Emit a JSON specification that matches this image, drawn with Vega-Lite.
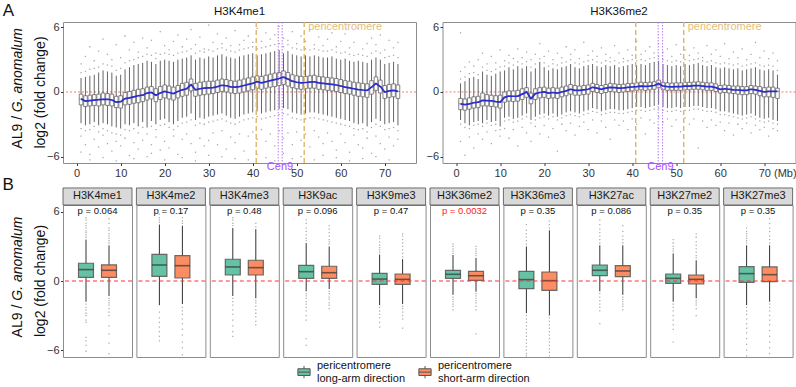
{
  "$schema": "https://vega.github.io/schema/vega-lite/v6.json",
  "padding": {"left": 2, "top": 1, "right": 0, "bottom": 0},
  "config": {
    "font": "Liberation Sans",
    "view": {"stroke": "#8c8c8c", "strokeWidth": 1},
    "axis": {"grid": false, "domain": false, "tickColor": "#333", "tickSize": 2.5, "labelPadding": 1.5, "labelFontSize": 11, "labelColor": "#333", "titleFontWeight": "normal", "titleColor": "#111", "labelFlush": false},
    "legend": {"labelFontSize": 11, "labelColor": "#111"}
  },
  "datasets": {
    "genome": [
      {"p":"H3K4me1","x":1,"lo":-2.9,"q1":-1.2,"m":-0.65,"q3":-0.2,"hi":1.3,"o":[1.8,2.6,-3.4,-4.1,-5.6]},
      {"p":"H3K4me1","x":2,"lo":-3.1,"q1":-1.35,"m":-0.85,"q3":-0.35,"hi":1.4,"o":[1.9,3.3,-3.6,-4.9]},
      {"p":"H3K4me1","x":3,"lo":-3.0,"q1":-1.3,"m":-0.8,"q3":-0.3,"hi":1.5,"o":[2.1,4.2,-3.5,-5.8,-6.3]},
      {"p":"H3K4me1","x":4,"lo":-2.8,"q1":-1.25,"m":-0.75,"q3":-0.25,"hi":1.6,"o":[2.2,2.9,-3.2,-4.4]},
      {"p":"H3K4me1","x":5,"lo":-3.1,"q1":-1.3,"m":-0.72,"q3":-0.2,"hi":1.8,"o":[2.3,3.8,-3.7,-5.1]},
      {"p":"H3K4me1","x":6,"lo":-2.9,"q1":-1.2,"m":-0.68,"q3":-0.1,"hi":2.0,"o":[2.6,4.9,-3.4,-4.0,-6.1]},
      {"p":"H3K4me1","x":7,"lo":-3.0,"q1":-1.25,"m":-0.68,"q3":-0.15,"hi":1.9,"o":[2.5,3.5,-3.6,-4.8]},
      {"p":"H3K4me1","x":8,"lo":-3.2,"q1":-1.3,"m":-0.75,"q3":-0.2,"hi":1.8,"o":[2.4,3.0,-3.8,-5.5]},
      {"p":"H3K4me1","x":9,"lo":-3.3,"q1":-1.45,"m":-0.95,"q3":-0.4,"hi":1.5,"o":[2.0,4.4,-3.9,-4.6,-6.4]},
      {"p":"H3K4me1","x":10,"lo":-3.4,"q1":-1.5,"m":-0.9,"q3":-0.35,"hi":1.6,"o":[2.2,3.2,-4.0,-5.0]},
      {"p":"H3K4me1","x":11,"lo":-3.0,"q1":-1.2,"m":-0.62,"q3":-0.05,"hi":2.1,"o":[2.7,5.2,-3.5,-4.3]},
      {"p":"H3K4me1","x":12,"lo":-3.1,"q1":-1.15,"m":-0.55,"q3":0.05,"hi":2.3,"o":[2.9,3.9,-3.6,-5.9]},
      {"p":"H3K4me1","x":13,"lo":-2.9,"q1":-1.05,"m":-0.45,"q3":0.15,"hi":2.5,"o":[3.0,4.6,-3.4,-4.7,-6.2]},
      {"p":"H3K4me1","x":14,"lo":-3.2,"q1":-1.0,"m":-0.35,"q3":0.25,"hi":2.6,"o":[3.2,3.7,-3.8,-5.3]},
      {"p":"H3K4me1","x":15,"lo":-2.8,"q1":-0.9,"m":-0.3,"q3":0.3,"hi":2.7,"o":[3.3,5.0,-3.3,-4.5]},
      {"p":"H3K4me1","x":16,"lo":-3.3,"q1":-0.75,"m":-0.1,"q3":0.45,"hi":2.9,"o":[3.5,4.1,-3.9,-6.0]},
      {"p":"H3K4me1","x":17,"lo":-2.7,"q1":-0.65,"m":-0.05,"q3":0.5,"hi":2.8,"o":[3.4,4.8,-3.2,-4.9,-5.7]},
      {"p":"H3K4me1","x":18,"lo":-3.0,"q1":-0.9,"m":-0.3,"q3":0.3,"hi":2.6,"o":[3.1,3.6,-3.5,-4.2]},
      {"p":"H3K4me1","x":19,"lo":-2.6,"q1":-0.7,"m":-0.1,"q3":0.5,"hi":2.9,"o":[3.5,5.6,-3.1,-5.4]},
      {"p":"H3K4me1","x":20,"lo":-2.5,"q1":-0.55,"m":0.05,"q3":0.65,"hi":3.0,"o":[3.6,4.3,-3.0,-4.6,-6.3]},
      {"p":"H3K4me1","x":21,"lo":-2.8,"q1":-0.65,"m":-0.05,"q3":0.55,"hi":2.9,"o":[3.5,3.9,-3.3,-5.2]},
      {"p":"H3K4me1","x":22,"lo":-3.0,"q1":-0.75,"m":-0.15,"q3":0.45,"hi":2.8,"o":[3.4,4.7,-3.5,-4.1]},
      {"p":"H3K4me1","x":23,"lo":-2.7,"q1":-0.55,"m":0.05,"q3":0.6,"hi":3.0,"o":[3.6,5.3,-3.2,-5.8]},
      {"p":"H3K4me1","x":24,"lo":-2.4,"q1":-0.4,"m":0.2,"q3":0.8,"hi":3.1,"o":[3.7,4.2,-2.9,-4.4,-6.1]},
      {"p":"H3K4me1","x":25,"lo":-2.3,"q1":-0.3,"m":0.3,"q3":0.9,"hi":3.2,"o":[3.8,4.9,-2.8,-3.9]},
      {"p":"H3K4me1","x":26,"lo":-2.0,"q1":0.1,"m":0.68,"q3":1.2,"hi":3.4,"o":[4.0,5.8,-2.6,-4.8]},
      {"p":"H3K4me1","x":27,"lo":-2.6,"q1":-0.4,"m":0.2,"q3":0.8,"hi":3.0,"o":[3.6,4.4,-3.1,-5.6,-6.4]},
      {"p":"H3K4me1","x":28,"lo":-2.4,"q1":-0.3,"m":0.3,"q3":0.9,"hi":3.2,"o":[3.8,5.1,-2.9,-4.3]},
      {"p":"H3K4me1","x":29,"lo":-2.5,"q1":-0.25,"m":0.35,"q3":0.95,"hi":3.1,"o":[3.7,4.0,-3.0,-5.0]},
      {"p":"H3K4me1","x":30,"lo":-2.3,"q1":-0.2,"m":0.38,"q3":1.0,"hi":3.3,"o":[3.9,6.2,-2.8,-4.5,-5.9]},
      {"p":"H3K4me1","x":31,"lo":-2.2,"q1":-0.15,"m":0.4,"q3":1.0,"hi":3.2,"o":[3.8,4.6,-2.7,-3.8]},
      {"p":"H3K4me1","x":32,"lo":-2.1,"q1":-0.05,"m":0.5,"q3":1.1,"hi":3.4,"o":[4.0,5.4,-2.6,-4.9]},
      {"p":"H3K4me1","x":33,"lo":-2.0,"q1":0.05,"m":0.62,"q3":1.2,"hi":3.5,"o":[4.1,4.5,-2.5,-3.6,-6.0]},
      {"p":"H3K4me1","x":34,"lo":-2.2,"q1":0.0,"m":0.58,"q3":1.15,"hi":3.3,"o":[3.9,5.0,-2.7,-5.3]},
      {"p":"H3K4me1","x":35,"lo":-2.4,"q1":-0.1,"m":0.48,"q3":1.05,"hi":3.2,"o":[3.8,4.3,-2.9,-4.2]},
      {"p":"H3K4me1","x":36,"lo":-2.5,"q1":-0.15,"m":0.45,"q3":1.0,"hi":3.1,"o":[3.7,5.7,-3.0,-4.7,-6.2]},
      {"p":"H3K4me1","x":37,"lo":-2.3,"q1":-0.1,"m":0.5,"q3":1.1,"hi":3.3,"o":[3.9,4.4,-2.8,-3.9]},
      {"p":"H3K4me1","x":38,"lo":-2.1,"q1":0.0,"m":0.6,"q3":1.2,"hi":3.4,"o":[4.0,4.8,-2.6,-5.5]},
      {"p":"H3K4me1","x":39,"lo":-2.0,"q1":0.1,"m":0.7,"q3":1.3,"hi":3.5,"o":[4.1,5.2,-2.5,-4.1,-6.3]},
      {"p":"H3K4me1","x":40,"lo":-1.9,"q1":0.2,"m":0.8,"q3":1.4,"hi":3.6,"o":[4.2,4.6,-2.4,-3.7]},
      {"p":"H3K4me1","x":41,"lo":-1.8,"q1":0.35,"m":0.95,"q3":1.5,"hi":3.4,"o":[4.0,5.9,-2.3,-4.4,-5.8]},
      {"p":"H3K4me1","x":42,"lo":-2.0,"q1":0.25,"m":0.85,"q3":1.45,"hi":3.5,"o":[4.1,4.7,-2.5,-3.5]},
      {"p":"H3K4me1","x":43,"lo":-1.9,"q1":0.35,"m":0.95,"q3":1.55,"hi":3.6,"o":[4.2,5.5,-2.4,-4.6,-6.1]},
      {"p":"H3K4me1","x":44,"lo":-1.8,"q1":0.45,"m":1.05,"q3":1.65,"hi":3.7,"o":[4.3,4.9,-2.3,-3.9]},
      {"p":"H3K4me1","x":45,"lo":-1.7,"q1":0.5,"m":1.15,"q3":1.75,"hi":3.8,"o":[4.4,5.3,-2.2,-5.0,-6.4]},
      {"p":"H3K4me1","x":46,"lo":-1.6,"q1":0.6,"m":1.25,"q3":1.8,"hi":3.9,"o":[4.5,6.1,-2.1,-3.6]},
      {"p":"H3K4me1","x":47,"lo":-1.5,"q1":0.7,"m":1.38,"q3":1.95,"hi":3.6,"o":[4.2,5.0,-2.0,-4.3,-5.7]},
      {"p":"H3K4me1","x":48,"lo":-1.6,"q1":0.55,"m":1.2,"q3":1.8,"hi":3.8,"o":[4.4,4.8,-2.1,-3.8]},
      {"p":"H3K4me1","x":49,"lo":-1.9,"q1":0.4,"m":1.0,"q3":1.6,"hi":3.5,"o":[4.1,5.6,-2.4,-4.9,-6.2]},
      {"p":"H3K4me1","x":50,"lo":-2.0,"q1":0.3,"m":0.9,"q3":1.5,"hi":3.4,"o":[4.0,4.5,-2.5,-3.7]},
      {"p":"H3K4me1","x":51,"lo":-2.1,"q1":0.25,"m":0.85,"q3":1.45,"hi":3.3,"o":[3.9,5.2,-2.6,-4.5,-6.0]},
      {"p":"H3K4me1","x":52,"lo":-2.0,"q1":0.3,"m":0.88,"q3":1.45,"hi":3.4,"o":[4.0,4.7,-2.5,-3.9]},
      {"p":"H3K4me1","x":53,"lo":-1.9,"q1":0.35,"m":0.92,"q3":1.5,"hi":3.3,"o":[3.9,5.8,-2.4,-5.1]},
      {"p":"H3K4me1","x":54,"lo":-1.9,"q1":0.35,"m":0.95,"q3":1.55,"hi":3.4,"o":[4.0,4.4,-2.4,-3.6,-6.3]},
      {"p":"H3K4me1","x":55,"lo":-2.0,"q1":0.25,"m":0.85,"q3":1.45,"hi":3.3,"o":[3.9,5.1,-2.5,-4.2]},
      {"p":"H3K4me1","x":56,"lo":-2.1,"q1":0.2,"m":0.8,"q3":1.4,"hi":3.2,"o":[3.8,4.3,-2.6,-4.8,-5.9]},
      {"p":"H3K4me1","x":57,"lo":-2.2,"q1":0.15,"m":0.75,"q3":1.35,"hi":3.2,"o":[3.8,4.9,-2.7,-3.8]},
      {"p":"H3K4me1","x":58,"lo":-2.3,"q1":0.1,"m":0.7,"q3":1.3,"hi":3.3,"o":[3.9,5.5,-2.8,-4.6]},
      {"p":"H3K4me1","x":59,"lo":-2.4,"q1":0.05,"m":0.65,"q3":1.25,"hi":3.1,"o":[3.7,4.2,-2.9,-5.4,-6.1]},
      {"p":"H3K4me1","x":60,"lo":-2.5,"q1":-0.05,"m":0.55,"q3":1.15,"hi":3.0,"o":[3.6,4.7,-3.0,-3.9]},
      {"p":"H3K4me1","x":61,"lo":-2.6,"q1":-0.15,"m":0.45,"q3":1.05,"hi":3.1,"o":[3.7,5.4,-3.1,-4.7]},
      {"p":"H3K4me1","x":62,"lo":-2.7,"q1":-0.2,"m":0.38,"q3":1.0,"hi":2.9,"o":[3.5,4.1,-3.2,-5.6,-6.4]},
      {"p":"H3K4me1","x":63,"lo":-2.9,"q1":-0.3,"m":0.3,"q3":0.9,"hi":2.8,"o":[3.4,4.6,-3.4,-4.0]},
      {"p":"H3K4me1","x":64,"lo":-3.0,"q1":-0.4,"m":0.22,"q3":0.85,"hi":2.9,"o":[3.5,5.9,-3.5,-4.9]},
      {"p":"H3K4me1","x":65,"lo":-2.9,"q1":-0.45,"m":0.18,"q3":0.8,"hi":2.8,"o":[3.4,4.0,-3.4,-5.2,-6.2]},
      {"p":"H3K4me1","x":66,"lo":-3.2,"q1":-0.5,"m":0.15,"q3":0.75,"hi":2.7,"o":[3.3,4.5,-3.7,-4.3]},
      {"p":"H3K4me1","x":67,"lo":-2.8,"q1":-0.2,"m":0.45,"q3":1.05,"hi":3.0,"o":[3.6,5.0,-3.3,-5.7]},
      {"p":"H3K4me1","x":68,"lo":-2.5,"q1":0.15,"m":0.78,"q3":1.4,"hi":3.2,"o":[3.8,4.4,-3.0,-4.1,-6.0]},
      {"p":"H3K4me1","x":69,"lo":-2.7,"q1":-0.1,"m":0.5,"q3":1.1,"hi":3.0,"o":[3.6,5.3,-3.2,-4.8]},
      {"p":"H3K4me1","x":70,"lo":-3.0,"q1":-0.6,"m":0.0,"q3":0.6,"hi":2.6,"o":[3.2,3.9,-3.5,-5.3]},
      {"p":"H3K4me1","x":71,"lo":-2.9,"q1":-0.5,"m":0.1,"q3":0.7,"hi":2.7,"o":[3.3,4.8,-3.4,-4.2,-6.3]},
      {"p":"H3K4me1","x":72,"lo":-2.8,"q1":-0.45,"m":0.15,"q3":0.75,"hi":2.8,"o":[3.4,4.1,-3.3,-5.0]},
      {"p":"H3K4me1","x":73,"lo":-3.1,"q1":-0.6,"m":0.05,"q3":0.65,"hi":2.6,"o":[3.2,4.6,-3.6,-4.4]},
      {"p":"H3K36me2","x":1,"lo":-2.6,"q1":-1.65,"m":-1.1,"q3":-0.6,"hi":0.8,"o":[1.2,1.9,5.5,-3.0,-4.6]},
      {"p":"H3K36me2","x":2,"lo":-2.9,"q1":-1.7,"m":-1.17,"q3":-0.65,"hi":1.0,"o":[1.4,2.3,-3.3,-5.9]},
      {"p":"H3K36me2","x":3,"lo":-3.1,"q1":-1.6,"m":-1.1,"q3":-0.55,"hi":1.3,"o":[1.7,2.8,-3.4,-4.2]},
      {"p":"H3K36me2","x":4,"lo":-2.8,"q1":-1.5,"m":-1.0,"q3":-0.45,"hi":1.4,"o":[1.8,2.4,-3.1,-5.2]},
      {"p":"H3K36me2","x":5,"lo":-2.7,"q1":-1.45,"m":-0.95,"q3":-0.4,"hi":1.2,"o":[1.6,3.0,-3.0,-3.9]},
      {"p":"H3K36me2","x":6,"lo":-2.9,"q1":-1.3,"m":-0.78,"q3":-0.1,"hi":1.9,"o":[2.3,3.6,-3.2,-4.4]},
      {"p":"H3K36me2","x":7,"lo":-2.6,"q1":-1.3,"m":-0.8,"q3":-0.25,"hi":1.6,"o":[2.0,2.6,-2.9,-3.7]},
      {"p":"H3K36me2","x":8,"lo":-2.8,"q1":-1.35,"m":-0.82,"q3":-0.3,"hi":1.5,"o":[1.9,3.3,-3.1,-4.8]},
      {"p":"H3K36me2","x":9,"lo":-2.7,"q1":-1.4,"m":-0.9,"q3":-0.35,"hi":1.7,"o":[2.1,2.7,-3.0,-3.6]},
      {"p":"H3K36me2","x":10,"lo":-3.2,"q1":-1.5,"m":-0.95,"q3":-0.3,"hi":1.9,"o":[2.3,3.9,-3.5,-4.1]},
      {"p":"H3K36me2","x":11,"lo":-2.4,"q1":-0.95,"m":-0.5,"q3":0.0,"hi":2.0,"o":[2.4,2.9,-2.7,-3.4]},
      {"p":"H3K36me2","x":12,"lo":-2.3,"q1":-0.85,"m":-0.38,"q3":0.1,"hi":2.3,"o":[2.7,3.4,-2.6,-4.3]},
      {"p":"H3K36me2","x":13,"lo":-2.5,"q1":-0.9,"m":-0.4,"q3":0.1,"hi":2.1,"o":[2.5,3.1,-2.8,-3.5]},
      {"p":"H3K36me2","x":14,"lo":-2.4,"q1":-0.85,"m":-0.38,"q3":0.15,"hi":2.4,"o":[2.8,4.0,-2.7,-5.0]},
      {"p":"H3K36me2","x":15,"lo":-2.2,"q1":-0.7,"m":-0.2,"q3":0.3,"hi":2.2,"o":[2.6,3.2,-2.5,-3.3]},
      {"p":"H3K36me2","x":16,"lo":-2.0,"q1":-0.5,"m":0.0,"q3":0.4,"hi":2.4,"o":[2.8,3.7,-2.3,-3.8]},
      {"p":"H3K36me2","x":17,"lo":-2.6,"q1":-1.1,"m":-0.62,"q3":-0.1,"hi":1.9,"o":[2.3,3.0,-2.9,-4.6]},
      {"p":"H3K36me2","x":18,"lo":-2.3,"q1":-0.7,"m":-0.15,"q3":0.3,"hi":2.2,"o":[2.6,3.5,-2.6,-3.2]},
      {"p":"H3K36me2","x":19,"lo":-2.1,"q1":-0.55,"m":-0.05,"q3":0.4,"hi":2.8,"o":[3.1,4.5,-2.4,-3.9]},
      {"p":"H3K36me2","x":20,"lo":-2.0,"q1":-0.5,"m":0.0,"q3":0.45,"hi":2.3,"o":[2.7,3.3,-2.3,-3.1]},
      {"p":"H3K36me2","x":21,"lo":-2.2,"q1":-0.6,"m":-0.1,"q3":0.35,"hi":2.0,"o":[2.4,3.8,-2.5,-4.2]},
      {"p":"H3K36me2","x":22,"lo":-2.0,"q1":-0.55,"m":-0.05,"q3":0.4,"hi":2.2,"o":[2.6,3.0,-2.3,-3.4]},
      {"p":"H3K36me2","x":23,"lo":-2.3,"q1":-0.6,"m":-0.1,"q3":0.35,"hi":2.1,"o":[2.5,3.6,-2.6,-5.5]},
      {"p":"H3K36me2","x":24,"lo":-2.1,"q1":-0.45,"m":0.0,"q3":0.45,"hi":2.3,"o":[2.7,3.2,-2.4,-3.0]},
      {"p":"H3K36me2","x":25,"lo":-1.9,"q1":-0.35,"m":0.1,"q3":0.55,"hi":2.4,"o":[2.8,4.2,-2.2,-3.6]},
      {"p":"H3K36me2","x":26,"lo":-1.8,"q1":-0.2,"m":0.25,"q3":0.7,"hi":2.6,"o":[3.0,3.5,-2.1,-2.9]},
      {"p":"H3K36me2","x":27,"lo":-1.9,"q1":-0.3,"m":0.15,"q3":0.6,"hi":2.3,"o":[2.7,3.9,-2.2,-4.0]},
      {"p":"H3K36me2","x":28,"lo":-2.0,"q1":-0.3,"m":0.15,"q3":0.55,"hi":2.2,"o":[2.6,3.1,-2.3,-3.2]},
      {"p":"H3K36me2","x":29,"lo":-1.8,"q1":-0.25,"m":0.2,"q3":0.6,"hi":2.4,"o":[2.8,4.6,-2.1,-2.8]},
      {"p":"H3K36me2","x":30,"lo":-1.7,"q1":-0.2,"m":0.25,"q3":0.65,"hi":2.5,"o":[2.9,3.4,-2.0,-3.5]},
      {"p":"H3K36me2","x":31,"lo":-1.5,"q1":0.05,"m":0.43,"q3":0.8,"hi":2.6,"o":[3.0,3.8,-1.8,-2.6]},
      {"p":"H3K36me2","x":32,"lo":-1.6,"q1":-0.05,"m":0.35,"q3":0.7,"hi":2.4,"o":[2.8,3.3,-1.9,-3.8]},
      {"p":"H3K36me2","x":33,"lo":-1.8,"q1":-0.15,"m":0.25,"q3":0.6,"hi":2.3,"o":[2.7,4.1,-2.1,-2.7]},
      {"p":"H3K36me2","x":34,"lo":-1.7,"q1":-0.05,"m":0.35,"q3":0.7,"hi":2.5,"o":[2.9,3.5,-2.0,-3.3]},
      {"p":"H3K36me2","x":35,"lo":-1.6,"q1":0.05,"m":0.43,"q3":0.8,"hi":2.4,"o":[2.8,3.2,-1.9,-4.4]},
      {"p":"H3K36me2","x":36,"lo":-1.6,"q1":0.0,"m":0.4,"q3":0.75,"hi":2.5,"o":[2.9,4.3,-1.9,-2.6]},
      {"p":"H3K36me2","x":37,"lo":-1.7,"q1":-0.05,"m":0.35,"q3":0.7,"hi":2.3,"o":[2.7,3.6,-2.0,-3.1]},
      {"p":"H3K36me2","x":38,"lo":-1.7,"q1":0.0,"m":0.37,"q3":0.72,"hi":2.4,"o":[2.8,3.1,-2.0,-2.7]},
      {"p":"H3K36me2","x":39,"lo":-1.6,"q1":0.05,"m":0.42,"q3":0.78,"hi":2.5,"o":[2.9,3.9,-1.9,-3.5]},
      {"p":"H3K36me2","x":40,"lo":-1.5,"q1":0.1,"m":0.46,"q3":0.8,"hi":2.6,"o":[3.0,3.4,-1.8,-2.5]},
      {"p":"H3K36me2","x":41,"lo":-1.4,"q1":0.15,"m":0.5,"q3":0.85,"hi":2.5,"o":[2.9,4.7,-1.7,-3.0]},
      {"p":"H3K36me2","x":42,"lo":-1.4,"q1":0.2,"m":0.55,"q3":0.9,"hi":2.6,"o":[3.0,3.5,-1.7,-2.4]},
      {"p":"H3K36me2","x":43,"lo":-1.5,"q1":0.15,"m":0.52,"q3":0.88,"hi":2.5,"o":[2.9,3.8,-1.8,-3.9]},
      {"p":"H3K36me2","x":44,"lo":-1.4,"q1":0.2,"m":0.55,"q3":0.9,"hi":2.7,"o":[3.1,4.2,-1.7,-2.6]},
      {"p":"H3K36me2","x":45,"lo":-1.3,"q1":0.25,"m":0.6,"q3":0.95,"hi":2.8,"o":[3.2,3.6,-1.6,-2.9]},
      {"p":"H3K36me2","x":46,"lo":-1.2,"q1":0.4,"m":0.77,"q3":1.1,"hi":2.9,"o":[3.3,4.5,-1.5,-2.3,-3.4]},
      {"p":"H3K36me2","x":47,"lo":-1.4,"q1":0.2,"m":0.55,"q3":0.9,"hi":2.6,"o":[3.0,3.7,-1.7,-2.8]},
      {"p":"H3K36me2","x":48,"lo":-1.5,"q1":0.15,"m":0.5,"q3":0.85,"hi":2.5,"o":[2.9,4.0,-1.8,-2.5]},
      {"p":"H3K36me2","x":49,"lo":-1.5,"q1":0.15,"m":0.48,"q3":0.82,"hi":2.4,"o":[2.8,3.3,-1.8,-3.2]},
      {"p":"H3K36me2","x":50,"lo":-1.4,"q1":0.15,"m":0.49,"q3":0.85,"hi":2.5,"o":[2.9,4.4,-1.7,-2.6]},
      {"p":"H3K36me2","x":51,"lo":-1.5,"q1":0.15,"m":0.5,"q3":0.85,"hi":2.4,"o":[2.8,3.5,-1.8,-3.7]},
      {"p":"H3K36me2","x":52,"lo":-1.4,"q1":0.2,"m":0.55,"q3":0.9,"hi":2.6,"o":[3.0,3.9,-1.7,-2.4]},
      {"p":"H3K36me2","x":53,"lo":-1.4,"q1":0.2,"m":0.55,"q3":0.9,"hi":2.5,"o":[2.9,3.4,-1.7,-3.0]},
      {"p":"H3K36me2","x":54,"lo":-1.3,"q1":0.25,"m":0.58,"q3":0.92,"hi":2.6,"o":[3.0,4.1,-1.6,-2.5]},
      {"p":"H3K36me2","x":55,"lo":-1.3,"q1":0.25,"m":0.6,"q3":0.95,"hi":2.7,"o":[3.1,3.6,-1.6,-5.2]},
      {"p":"H3K36me2","x":56,"lo":-1.4,"q1":0.2,"m":0.55,"q3":0.9,"hi":2.5,"o":[2.9,3.2,-1.7,-2.7]},
      {"p":"H3K36me2","x":57,"lo":-1.5,"q1":0.15,"m":0.5,"q3":0.85,"hi":2.4,"o":[2.8,4.3,-1.8,-3.3]},
      {"p":"H3K36me2","x":58,"lo":-1.5,"q1":0.15,"m":0.49,"q3":0.85,"hi":2.5,"o":[2.9,3.5,-1.8,-2.6]},
      {"p":"H3K36me2","x":59,"lo":-1.6,"q1":0.05,"m":0.4,"q3":0.75,"hi":2.3,"o":[2.7,3.9,-1.9,-3.1]},
      {"p":"H3K36me2","x":60,"lo":-1.8,"q1":-0.1,"m":0.25,"q3":0.6,"hi":2.2,"o":[2.6,3.3,-2.1,-2.8]},
      {"p":"H3K36me2","x":61,"lo":-1.8,"q1":-0.05,"m":0.3,"q3":0.65,"hi":2.3,"o":[2.7,4.5,-2.1,-3.6]},
      {"p":"H3K36me2","x":62,"lo":-1.9,"q1":-0.1,"m":0.25,"q3":0.6,"hi":2.2,"o":[2.6,3.1,-2.2,-2.9]},
      {"p":"H3K36me2","x":63,"lo":-2.0,"q1":-0.15,"m":0.2,"q3":0.55,"hi":2.1,"o":[2.5,3.7,-2.3,-4.0]},
      {"p":"H3K36me2","x":64,"lo":-2.1,"q1":-0.2,"m":0.18,"q3":0.55,"hi":2.2,"o":[2.6,3.2,-2.4,-3.0]},
      {"p":"H3K36me2","x":65,"lo":-2.2,"q1":-0.25,"m":0.15,"q3":0.5,"hi":2.0,"o":[2.4,4.0,-2.5,-3.4]},
      {"p":"H3K36me2","x":66,"lo":-2.1,"q1":-0.25,"m":0.15,"q3":0.5,"hi":2.1,"o":[2.5,3.0,-2.4,-2.9]},
      {"p":"H3K36me2","x":67,"lo":-2.0,"q1":-0.15,"m":0.25,"q3":0.6,"hi":2.2,"o":[2.6,3.5,-2.3,-3.8]},
      {"p":"H3K36me2","x":68,"lo":-2.2,"q1":-0.2,"m":0.2,"q3":0.55,"hi":2.3,"o":[2.7,4.6,-2.5,-3.1]},
      {"p":"H3K36me2","x":69,"lo":-2.4,"q1":-0.35,"m":0.1,"q3":0.5,"hi":2.1,"o":[2.5,3.2,-2.7,-3.5]},
      {"p":"H3K36me2","x":70,"lo":-2.5,"q1":-0.45,"m":0.0,"q3":0.4,"hi":2.0,"o":[2.4,3.8,-2.8,-3.3]},
      {"p":"H3K36me2","x":71,"lo":-2.4,"q1":-0.45,"m":0.05,"q3":0.45,"hi":2.1,"o":[2.5,3.1,-2.7,-4.1]},
      {"p":"H3K36me2","x":72,"lo":-2.6,"q1":-0.5,"m":0.05,"q3":0.45,"hi":2.0,"o":[2.4,3.6,-2.9,-3.4]},
      {"p":"H3K36me2","x":73,"lo":-2.7,"q1":-0.6,"m":0.06,"q3":0.35,"hi":1.6,"o":[2.0,2.9,-3.0,-3.6]}
    ],
    "arms": [
      {"mark":"H3K4me1","arm":"long","pval":0.064,"lo":-1.8,"q1":0.32,"m":0.99,"q3":1.54,"hi":3.6,"o":[3.8,4.0,4.2,4.35,4.6,4.8,5.0,5.3,5.5,-2.0,-2.3,-2.5,-2.8,-3.0,-3.4,-3.6,-4.9,-5.2,-5.6,-6.1]},
      {"mark":"H3K4me1","arm":"short","pval":0.064,"lo":-1.3,"q1":0.32,"m":0.93,"q3":1.4,"hi":3.1,"o":[3.3,3.5,3.7,3.9,4.1,4.4,4.6,5.0,5.4,-1.5,-1.7,-1.9,-2.1,-2.4,-2.7,-3.0,-3.9,-4.6,-5.4,-6.3]},
      {"mark":"H3K4me2","arm":"long","pval":0.17,"lo":-2.1,"q1":0.41,"m":1.39,"q3":2.32,"hi":4.9,"o":[5.1,5.3,5.5,5.8,-2.7,-3.2,-3.6,-4.0,-4.4,-4.8,-5.2]},
      {"mark":"H3K4me2","arm":"short","pval":0.17,"lo":-2.0,"q1":0.26,"m":1.33,"q3":2.2,"hi":4.8,"o":[5.0,5.2,5.5,5.9,6.2,-2.3,-2.6,-2.9,-3.3,-3.7,-4.2,-4.7,-5.3,-5.8,-6.4]},
      {"mark":"H3K4me3","arm":"long","pval":0.48,"lo":-1.3,"q1":0.52,"m":1.22,"q3":1.89,"hi":4.6,"o":[4.8,5.0,5.3,5.5,-1.5,-1.8,-2.1,-2.5,-2.9,-3.4,-3.9,-4.4,-4.8]},
      {"mark":"H3K4me3","arm":"short","pval":0.48,"lo":-1.5,"q1":0.52,"m":1.16,"q3":1.8,"hi":4.5,"o":[4.7,5.0,-1.7,-1.9,-2.2,-2.5,-2.8,-3.1,-3.5,-3.8]},
      {"mark":"H3K9ac","arm":"long","pval":0.096,"lo":-0.9,"q1":0.23,"m":0.81,"q3":1.36,"hi":3.3,"o":[3.5,3.7,4.0,4.3,4.6,5.0,5.3,-1.1,-1.3,-1.5,-1.8,-2.0,-2.3,-2.6,-3.0,-3.4,-5.0,-5.6]},
      {"mark":"H3K9ac","arm":"short","pval":0.096,"lo":-0.7,"q1":0.23,"m":0.72,"q3":1.28,"hi":3.0,"o":[3.2,3.4,3.6,3.9,4.2,4.5,4.8,-0.9,-1.1,-1.4,-1.6,-1.9,-2.1,-2.4]},
      {"mark":"H3K9me3","arm":"long","pval":0.47,"lo":-2.1,"q1":-0.29,"m":0.17,"q3":0.67,"hi":2.3,"o":[2.5,2.7,2.9,3.1,3.4,3.7,3.9,-2.3,-2.6,-2.9,-3.2,-3.6,-4.0]},
      {"mark":"H3K9me3","arm":"short","pval":0.47,"lo":-2.0,"q1":-0.29,"m":0.14,"q3":0.61,"hi":1.9,"o":[2.1,2.4,2.7,3.0,3.3,3.6,3.9,4.1,-2.2,-2.4,-2.7,-3.0,-3.3,-4.1]},
      {"mark":"H3K36me2","arm":"long","pval":0.0032,"lo":-1.2,"q1":0.23,"m":0.58,"q3":0.93,"hi":2.26,"o":[2.4,2.6,2.8,3.0,3.2,-1.4,-1.6,-1.8,-2.0,-2.2,-2.5]},
      {"mark":"H3K36me2","arm":"short","pval":0.0032,"lo":-0.93,"q1":0.06,"m":0.46,"q3":0.84,"hi":2.0,"o":[2.2,2.4,2.6,2.8,3.0,-1.1,-1.3,-1.5,-1.7,-1.9,-2.2,-2.5,-4.6]},
      {"mark":"H3K36me3","arm":"long","pval":0.35,"lo":-2.8,"q1":-0.67,"m":0.12,"q3":0.84,"hi":3.0,"o":[3.2,3.5,3.8,4.1,4.4,4.9,-3.0,-3.3,-3.6,-3.9,-4.2,-4.5,-4.8,-5.1,-5.4,-5.7,-6.0,-6.3,-6.5]},
      {"mark":"H3K36me3","arm":"short","pval":0.35,"lo":-3.0,"q1":-0.81,"m":0.03,"q3":0.78,"hi":4.4,"o":[4.6,4.9,5.2,-3.2,-3.5,-3.8,-4.1,-4.4,-4.7,-5.0,-5.3,-5.6,-5.9,-6.2,-6.5]},
      {"mark":"H3K27ac","arm":"long","pval":0.086,"lo":-0.9,"q1":0.46,"m":0.93,"q3":1.39,"hi":3.1,"o":[3.3,3.6,3.9,4.2,4.5,4.9,5.3,-1.1,-1.4,-1.7,-2.0,-2.3,-2.6,-3.7]},
      {"mark":"H3K27ac","arm":"short","pval":0.086,"lo":-1.2,"q1":0.38,"m":0.87,"q3":1.33,"hi":3.1,"o":[3.3,3.6,3.9,4.3,4.8,-1.4,-1.6,-1.8,-2.0,-2.2,-2.5]},
      {"mark":"H3K27me2","arm":"long","pval":0.35,"lo":-1.8,"q1":-0.2,"m":0.23,"q3":0.61,"hi":2.4,"o":[2.6,2.8,3.0,3.3,3.6,-2.0,-2.3,-2.6,-3.0,-3.4,-3.8,-4.2,-5.3]},
      {"mark":"H3K27me2","arm":"short","pval":0.35,"lo":-1.5,"q1":-0.26,"m":0.14,"q3":0.52,"hi":1.8,"o":[2.0,2.2,2.5,2.8,3.1,3.4,3.8,4.1,-1.7,-1.9,-2.1,-2.4,-3.0]},
      {"mark":"H3K27me3","arm":"long","pval":0.35,"lo":-2.1,"q1":-0.12,"m":0.64,"q3":1.25,"hi":3.1,"o":[3.3,3.5,3.7,3.9,4.1,4.3,4.6,-2.3,-2.6,-2.9,-3.3,-3.7,-4.1,-4.5,-5.0,-5.5,-6.0,-6.5]},
      {"mark":"H3K27me3","arm":"short","pval":0.35,"lo":-1.8,"q1":-0.06,"m":0.55,"q3":1.22,"hi":3.1,"o":[3.3,3.6,3.9,4.3,4.6,5.0,5.4,-2.0,-2.3,-2.6,-3.0,-3.4,-3.8,-4.3,-4.8,-5.3,-5.8,-6.3]}
    ]
  },
  "vconcat": [
    {
      "hconcat": [
        {
          "width": 353, "height": 141,
          "data": {"name": "genome"},
          "transform": [{"filter": "datum.p == 'H3K4me1'"}],
          "layer": [
            {"data": {"values": [{}]}, "mark": {"type": "rule", "color": "#ff5050", "strokeDash": [2, 2], "strokeWidth": 0.8}, "encoding": {"y": {"datum": 0, "type": "quantitative"}}},
            {"transform": [{"flatten": ["o"]}], "mark": {"type": "square", "size": 1.6, "color": "#888", "opacity": 0.75},
             "encoding": {
               "x": {"field": "x", "type": "quantitative", "scale": {"domain": [-3.1, 77.1], "nice": false, "zero": false, "padding": 0}, "axis": {"values": [0, 10, 20, 30, 40, 50, 60, 70], "title": null}},
               "y": {"field": "o", "type": "quantitative", "scale": {"domain": [-6.6, 6.5], "nice": false, "padding": 0}, "axis": {"values": [-6, -3, 0, 3, 6], "title": null}}}},
            {"mark": {"type": "rule", "color": "#555", "strokeWidth": 0.9}, "encoding": {"x": {"field": "x", "type": "quantitative"}, "y": {"field": "lo", "type": "quantitative"}, "y2": {"field": "hi"}}},
            {"mark": {"type": "bar", "width": 3.6, "fill": "white", "stroke": "#666", "strokeWidth": 0.8}, "encoding": {"x": {"field": "x", "type": "quantitative"}, "y": {"field": "q1", "type": "quantitative"}, "y2": {"field": "q3"}}},
            {"mark": {"type": "tick", "orient": "horizontal", "size": 3.6, "thickness": 1, "color": "#666"}, "encoding": {"x": {"field": "x", "type": "quantitative"}, "y": {"field": "m", "type": "quantitative"}}},
            {"data": {"values": [{"b": 40.8}, {"b": 51.7}]}, "mark": {"type": "rule", "color": "#e2b36b", "strokeDash": [5, 3], "strokeWidth": 1.4}, "encoding": {"x": {"field": "b", "type": "quantitative"}}},
            {"data": {"values": [{"c": 45.8}, {"c": 46.7}]}, "mark": {"type": "rule", "color": "#b77cf0", "strokeDash": [1.5, 1.5], "strokeWidth": 1}, "encoding": {"x": {"field": "c", "type": "quantitative"}}},
            {"mark": {"type": "line", "color": "#2b2bd0", "strokeWidth": 1.7}, "encoding": {"x": {"field": "x", "type": "quantitative"}, "y": {"field": "m", "type": "quantitative"}}},
            {"data": {"values": [{}]}, "mark": {"type": "text", "align": "left", "baseline": "middle", "fontSize": 11, "color": "#e5bd7b"}, "encoding": {"x": {"datum": 52.6, "type": "quantitative"}, "y": {"datum": 6.05, "type": "quantitative"}, "text": {"value": "pericentromere"}}},
            {"data": {"values": [{}]}, "mark": {"type": "text", "align": "center", "baseline": "middle", "fontSize": 11, "color": "#a64dff"}, "encoding": {"x": {"datum": 46.2, "type": "quantitative"}, "y": {"datum": -6.95, "type": "quantitative"}, "text": {"value": "Cen9"}}},
            {"data": {"values": [{}]}, "mark": {"type": "text", "align": "center", "baseline": "middle", "fontSize": 11.5, "color": "#111"}, "encoding": {"x": {"datum": 37, "type": "quantitative"}, "y": {"datum": 7.42, "type": "quantitative"}, "text": {"value": "H3K4me1"}}},
            {"data": {"values": [{}]}, "mark": {"type": "text", "align": "center", "baseline": "middle", "fontSize": 17, "color": "#111"}, "encoding": {"x": {"datum": -15.5, "type": "quantitative"}, "y": {"datum": 7.56, "type": "quantitative"}, "text": {"value": "A"}}},
            {"data": {"values": [{}]}, "mark": {"type": "text", "angle": 270, "align": "center", "baseline": "middle", "fontSize": 14, "color": "#111"}, "encoding": {"x": {"datum": -8.1, "type": "quantitative"}, "y": {"datum": -0.05, "type": "quantitative"}, "text": {"value": "log2 (fold change)"}}},
            {"data": {"values": [{}]}, "mark": {"type": "text", "angle": 270, "align": "right", "baseline": "middle", "fontSize": 14, "color": "#111"}, "encoding": {"x": {"datum": -13.33, "type": "quantitative"}, "y": {"datum": -2.23, "type": "quantitative"}, "text": {"value": "AL9 /"}}},
            {"data": {"values": [{}]}, "mark": {"type": "text", "angle": 270, "align": "left", "baseline": "middle", "fontSize": 14, "fontStyle": "italic", "color": "#111"}, "encoding": {"x": {"datum": -13.33, "type": "quantitative"}, "y": {"datum": -1.88, "type": "quantitative"}, "text": {"value": "G. anomalum"}}}
          ]
        },
        {
          "width": 353, "height": 141,
          "data": {"name": "genome"},
          "transform": [{"filter": "datum.p == 'H3K36me2'"}],
          "layer": [
            {"data": {"values": [{}]}, "mark": {"type": "rule", "color": "#ff5050", "strokeDash": [2, 2], "strokeWidth": 0.8}, "encoding": {"y": {"datum": 0, "type": "quantitative"}}},
            {"transform": [{"flatten": ["o"]}], "mark": {"type": "square", "size": 1.6, "color": "#888", "opacity": 0.75},
             "encoding": {
               "x": {"field": "x", "type": "quantitative", "scale": {"domain": [-3.1, 77.1], "nice": false, "zero": false, "padding": 0},
                     "axis": {"values": [0, 10, 20, 30, 40, 50, 60, 70], "title": null,
                              "labelExpr": "datum.value == 70 ? '70 (Mb)' : datum.label",
                              "labelAlign": {"condition": {"test": "datum.value == 70", "value": "left"}, "value": "center"},
                              "labelOffset": {"condition": {"test": "datum.value == 70", "value": -6}, "value": 0}}},
               "y": {"field": "o", "type": "quantitative", "scale": {"domain": [-6.6, 6.5], "nice": false, "padding": 0}, "axis": {"values": [-6, -3, 0, 3, 6], "title": null}}}},
            {"mark": {"type": "rule", "color": "#555", "strokeWidth": 0.9}, "encoding": {"x": {"field": "x", "type": "quantitative"}, "y": {"field": "lo", "type": "quantitative"}, "y2": {"field": "hi"}}},
            {"mark": {"type": "bar", "width": 3.6, "fill": "white", "stroke": "#666", "strokeWidth": 0.8}, "encoding": {"x": {"field": "x", "type": "quantitative"}, "y": {"field": "q1", "type": "quantitative"}, "y2": {"field": "q3"}}},
            {"mark": {"type": "tick", "orient": "horizontal", "size": 3.6, "thickness": 1, "color": "#666"}, "encoding": {"x": {"field": "x", "type": "quantitative"}, "y": {"field": "m", "type": "quantitative"}}},
            {"data": {"values": [{"b": 40.8}, {"b": 51.7}]}, "mark": {"type": "rule", "color": "#e2b36b", "strokeDash": [5, 3], "strokeWidth": 1.4}, "encoding": {"x": {"field": "b", "type": "quantitative"}}},
            {"data": {"values": [{"c": 45.9}, {"c": 46.9}]}, "mark": {"type": "rule", "color": "#b77cf0", "strokeDash": [1.5, 1.5], "strokeWidth": 1}, "encoding": {"x": {"field": "c", "type": "quantitative"}}},
            {"mark": {"type": "line", "color": "#2b2bd0", "strokeWidth": 1.7}, "encoding": {"x": {"field": "x", "type": "quantitative"}, "y": {"field": "m", "type": "quantitative"}}},
            {"data": {"values": [{}]}, "mark": {"type": "text", "align": "left", "baseline": "middle", "fontSize": 11, "color": "#e5bd7b"}, "encoding": {"x": {"datum": 52.6, "type": "quantitative"}, "y": {"datum": 6.05, "type": "quantitative"}, "text": {"value": "pericentromere"}}},
            {"data": {"values": [{}]}, "mark": {"type": "text", "align": "center", "baseline": "middle", "fontSize": 11, "color": "#a64dff"}, "encoding": {"x": {"datum": 46.4, "type": "quantitative"}, "y": {"datum": -6.95, "type": "quantitative"}, "text": {"value": "Cen9"}}},
            {"data": {"values": [{}]}, "mark": {"type": "text", "align": "center", "baseline": "middle", "fontSize": 11.5, "color": "#111"}, "encoding": {"x": {"datum": 37, "type": "quantitative"}, "y": {"datum": 7.42, "type": "quantitative"}, "text": {"value": "H3K36me2"}}}
          ]
        }
      ],
      "spacing": 7.5
    },
    {
      "data": {"name": "arms"},
      "facet": {"column": {"field": "mark", "type": "nominal", "title": null, "header": {"labels": false},
                           "sort": ["H3K4me1", "H3K4me2", "H3K4me3", "H3K9ac", "H3K9me3", "H3K36me2", "H3K36me3", "H3K27ac", "H3K27me2", "H3K27me3"]}},
      "spacing": 4.4,
      "bounds": "flush",
      "spec": {
        "width": 69, "height": 152,
        "layer": [
          {"transform": [{"filter": "datum.arm == 'long'"}],
           "mark": {"type": "rect", "fill": "#d9d9d9", "stroke": "#4d4d4d", "strokeWidth": 0.8},
           "encoding": {"x": {"datum": 0, "type": "quantitative", "scale": {"domain": [0, 1]}, "axis": null}, "x2": {"datum": 1},
                        "y": {"datum": 6.6, "type": "quantitative"}, "y2": {"datum": 8.08}}},
          {"transform": [{"filter": "datum.arm == 'long'"}],
           "mark": {"type": "text", "fontSize": 11, "color": "#1a1a1a", "baseline": "middle"},
           "encoding": {"x": {"datum": 0.5, "type": "quantitative", "scale": {"domain": [0, 1]}, "axis": null},
                        "y": {"datum": 7.34, "type": "quantitative"}, "text": {"field": "mark"}}},
          {"transform": [{"filter": "datum.arm == 'long'"}, {"calculate": "'p = ' + datum.pval", "as": "plabel"}],
           "mark": {"type": "text", "fontSize": 9.5, "baseline": "middle"},
           "encoding": {"x": {"datum": 0.5, "type": "quantitative", "scale": {"domain": [0, 1]}, "axis": null},
                        "y": {"datum": 6.08, "type": "quantitative"}, "text": {"field": "plabel"},
                        "color": {"condition": {"test": "datum.pval < 0.05", "value": "#ff2020"}, "value": "#111"}}},
          {"transform": [{"flatten": ["o"]}],
           "mark": {"type": "square", "size": 1.6, "color": "#777", "opacity": 0.6},
           "encoding": {"x": {"field": "arm", "type": "nominal", "scale": {"type": "point", "padding": 1.1, "domain": ["long", "short"]}, "axis": null},
                        "y": {"field": "o", "type": "quantitative"}}},
          {"mark": {"type": "rule", "color": "#333", "strokeWidth": 1},
           "encoding": {"x": {"field": "arm", "type": "nominal", "scale": {"type": "point", "padding": 1.1, "domain": ["long", "short"]}, "axis": null},
                        "y": {"field": "lo", "type": "quantitative", "scale": {"domain": [-6.6, 6.6], "nice": false, "padding": 0},
                              "axis": {"values": [-6, -3, 0, 3, 6], "title": null}},
                        "y2": {"field": "hi"}}},
          {"mark": {"type": "bar", "width": 15, "stroke": "#555", "strokeWidth": 1.2, "strokeOpacity": 0.85},
           "encoding": {"x": {"field": "arm", "type": "nominal", "scale": {"type": "point", "padding": 1.1, "domain": ["long", "short"]}, "axis": null},
                        "y": {"field": "q1", "type": "quantitative"}, "y2": {"field": "q3"},
                        "fill": {"field": "arm", "type": "nominal", "scale": {"domain": ["long", "short"], "range": ["#66c2a5", "#fc8d62"]},
                                 "legend": {"title": null, "orient": "none", "legendX": 234, "legendY": 337, "direction": "horizontal",
                                            "symbolType": "M-1,0.45H1V1.55H-1Z M-1,1H1 M0,0.45V0 M0,1.55V2",
                                            "symbolSize": 150, "symbolStrokeColor": "#555", "symbolStrokeWidth": 1,
                                            "labelExpr": "datum.value == 'long' ? ['pericentromere', 'long-arm direction'] : ['pericentromere', 'short-arm direction']",
                                            "labelFontSize": 11, "labelOffset": 6, "columnPadding": 10, "labelLimit": 200}}}},
          {"mark": {"type": "tick", "orient": "horizontal", "size": 15, "thickness": 1.6, "color": "#333"},
           "encoding": {"x": {"field": "arm", "type": "nominal", "scale": {"type": "point", "padding": 1.1, "domain": ["long", "short"]}, "axis": null},
                        "y": {"field": "m", "type": "quantitative"}}},
          {"data": {"values": [{}]},
           "mark": {"type": "rule", "color": "#ff3030", "stroke": "#ff3030", "strokeDash": [4, 3], "strokeWidth": 1.2},
           "encoding": {"y": {"datum": 0, "type": "quantitative"}}},
          {"transform": [{"filter": "datum.arm == 'long' && datum.mark == 'H3K4me1'"}],
           "mark": {"type": "text", "fontSize": 17, "color": "#111", "align": "center", "baseline": "middle"},
           "encoding": {"x": {"datum": -0.793, "type": "quantitative", "scale": {"domain": [0, 1]}, "axis": null},
                        "y": {"datum": 8.3, "type": "quantitative"}, "text": {"value": "B"}}},
          {"transform": [{"filter": "datum.arm == 'long' && datum.mark == 'H3K4me1'"}],
           "mark": {"type": "text", "angle": 270, "align": "center", "baseline": "middle", "fontSize": 14, "color": "#111"},
           "encoding": {"x": {"datum": -0.319, "type": "quantitative", "scale": {"domain": [0, 1]}, "axis": null},
                        "y": {"datum": 0, "type": "quantitative"}, "text": {"value": "log2 (fold change)"}}},
          {"transform": [{"filter": "datum.arm == 'long' && datum.mark == 'H3K4me1'"}],
           "mark": {"type": "text", "angle": 270, "align": "right", "baseline": "middle", "fontSize": 14, "color": "#111"},
           "encoding": {"x": {"datum": -0.652, "type": "quantitative", "scale": {"domain": [0, 1]}, "axis": null},
                        "y": {"datum": -2.06, "type": "quantitative"}, "text": {"value": "AL9 /"}}},
          {"transform": [{"filter": "datum.arm == 'long' && datum.mark == 'H3K4me1'"}],
           "mark": {"type": "text", "angle": 270, "align": "left", "baseline": "middle", "fontSize": 14, "fontStyle": "italic", "color": "#111"},
           "encoding": {"x": {"datum": -0.652, "type": "quantitative", "scale": {"domain": [0, 1]}, "axis": null},
                        "y": {"datum": -1.71, "type": "quantitative"}, "text": {"value": "G. anomalum"}}}
        ],
        "resolve": {"scale": {"x": "independent"}}
      }
    }
  ],
  "spacing": -4
}
